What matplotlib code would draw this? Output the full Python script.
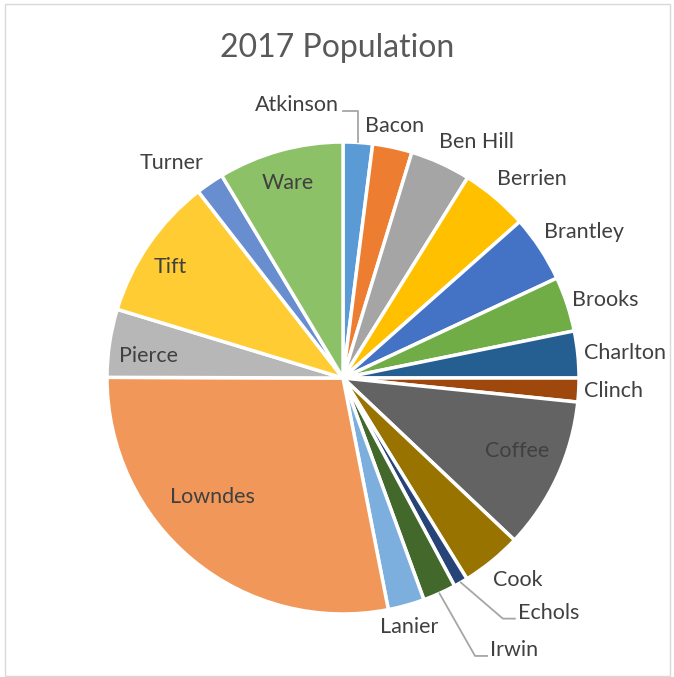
import numpy as np
import matplotlib
matplotlib.use("Agg")
import matplotlib.pyplot as plt
from matplotlib.patches import Rectangle

# 2017 population by county
counties = ["Atkinson", "Bacon", "Ben Hill", "Berrien", "Brantley", "Brooks",
            "Charlton", "Clinch", "Coffee", "Cook", "Echols", "Irwin", "Lanier",
            "Lowndes", "Pierce", "Tift", "Turner", "Ware"]
population = [8342, 11228, 17194, 19140, 18989, 15586, 13295, 6743, 43273,
              17212, 3994, 9416, 10340, 116721, 19330, 40644, 7962, 35640]
colors = ["#5B9BD5", "#ED7D31", "#A5A5A5", "#FFC000", "#4472C4", "#70AD47",
          "#255E91", "#9E480E", "#636363", "#997300", "#264478", "#43682B",
          "#7CAFDD", "#F1975A", "#B7B7B7", "#FFCD33", "#698ED0", "#8CC168"]

# labels inside the slice: (radius factor, angle shift)
inside = {"Coffee": (0.80, -1.8), "Lowndes": (0.75, 8.0), "Pierce": (0.83, -2.2),
          "Tift": (0.87, -1.7), "Ware": (0.86, -0.3)}
# labels moved away from their slice, given as (angle from top, radius factor)
moved = {"Atkinson": (359.2, 1.157), "Echols": (143.3, 1.24), "Irwin": (151.6, 1.31)}

W, H = 674, 677
cx, cy, R = 343, 378, 236
fs = 15.5

fig = plt.figure(figsize=(W / 100, H / 100), dpi=100)
ax = fig.add_axes([0, 0, 1, 1])

ax.pie(population, colors=colors, startangle=90, counterclock=False,
       center=(cx, H - cy), radius=R,
       wedgeprops=dict(edgecolor="white", linewidth=2.5))
ax.set_xlim(0, W)
ax.set_ylim(0, H)
ax.set_aspect("equal")
ax.axis("off")

ax.add_patch(Rectangle((5, 1), W - 9, H - 5, fill=False, edgecolor="#D9D9D9", lw=1))

font = "Lato"
txt = "#404040"
ax.text(W / 2, H - 48, "2017 Population", ha="center", va="center",
        fontsize=23, color="#595959", family=font)

def px(angle, rad):
    a = np.radians(angle)
    return cx + rad * np.sin(a), cy - rad * np.cos(a)

total = sum(population)
cum = np.cumsum([0] + population[:-1])
for name, before, val in zip(counties, cum, population):
    mid = (before + val / 2) / total * 360
    if name in inside:
        f, shift = inside[name]
        x, y = px(mid + shift, R * f)
        ax.text(x, H - y, name, ha="center", va="center", fontsize=fs,
                color=txt, family=font)
        continue
    if name in moved:
        ang, f = moved[name]
        lx, ly = px(ang, R * f)
        sx, sy = px(mid, R)
        if name == "Atkinson":
            pts = [(sx, sy), (sx, ly + 6), (lx + 4, ly + 6)]
            ha = "right"
        else:
            pts = [(sx, sy), (lx - 15, ly + 6), (lx - 3, ly + 6)]
            ha = "left"
        ax.plot([p[0] for p in pts], [H - p[1] for p in pts], color="#A6A6A6", lw=1.3)
        ax.text(lx, H - ly, name, ha=ha, va="center", fontsize=fs,
                color=txt, family=font)
        continue
    x, y = px(mid, R * 1.05)
    s, c = np.sin(np.radians(mid)), np.cos(np.radians(mid))
    ha = "left" if s > 0.3 else ("right" if s < -0.3 else "center")
    va = "bottom" if c > 0.35 else ("top" if c < -0.35 else "center")
    if ha == "left":
        x -= 6
    ax.text(x, H - y, name, ha=ha, va=va, fontsize=fs, color=txt, family=font)

fig.savefig("out.png", dpi=100)
